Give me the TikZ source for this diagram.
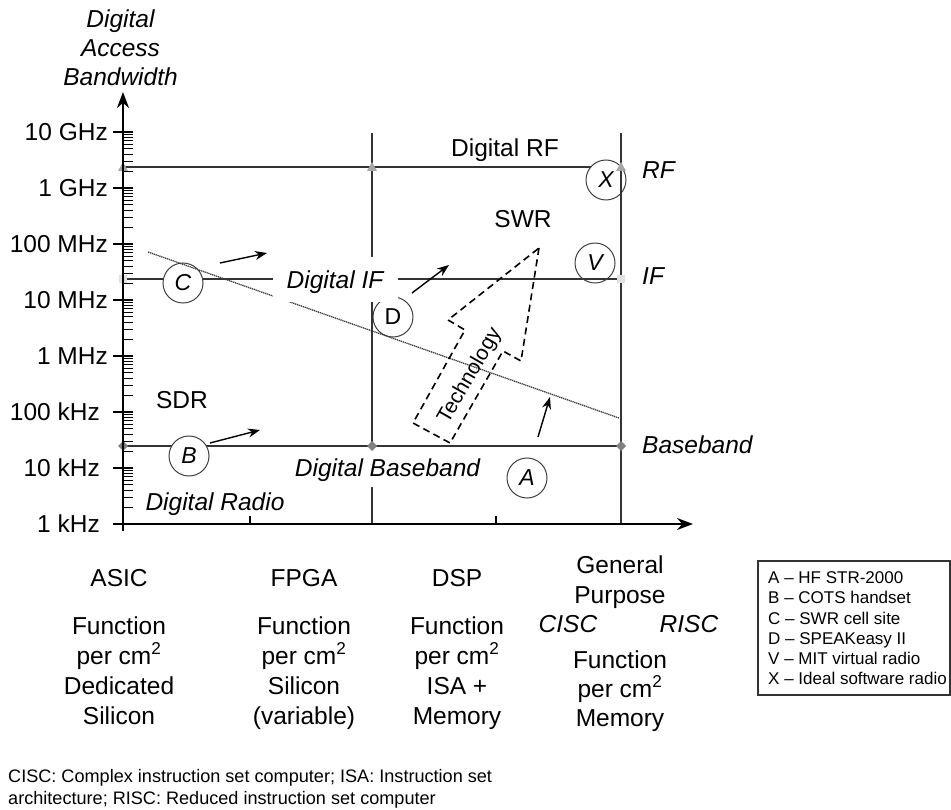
\documentclass[tikz,border=0pt]{standalone}
\usepackage{fontspec}
\setmainfont{Liberation Sans}
\usetikzlibrary{arrows.meta}
\begin{document}
\begin{tikzpicture}[x=1pt,y=-1pt,
  lab/.style={inner sep=0pt, font=\fontsize{24.5}{30}\selectfont},
  ilab/.style={inner sep=0pt, font=\fontsize{24.5}{30}\selectfont\itshape},
  leg/.style={inner sep=0pt, anchor=base west, font=\fontsize{17}{20}\selectfont},
  captxt/.style={inner sep=0pt, anchor=base west, font=\fontsize{18.1}{22}\selectfont},
  gridline/.style={draw=black!80, line width=1.4pt},
  circ/.style={circle, draw=black!75, line width=1pt, minimum size=40pt, inner sep=0pt, fill=white, font=\fontsize{23}{23}\selectfont\itshape},
  axisline/.style={draw=black, line width=2.6pt, -{Stealth[length=16pt,width=12pt]}},
  trend/.style={draw=black, line width=1.4pt, -{Stealth[length=12pt,width=9pt]}},
  tickline/.style={draw=black, line width=1.3pt},
  cover/.style={fill=white, inner xsep=0pt, text height=17.5pt, text depth=0pt, font=\fontsize{24.5}{30}\selectfont\itshape}
]
\useasboundingbox (0,0) rectangle (951,810);

% coordinates of the grid
\coordinate (rf0) at (123,167); \coordinate (rf1) at (372,167); \coordinate (rf2) at (621,167);
\coordinate (if0) at (123,279); \coordinate (if2) at (621,279);
\coordinate (bb0) at (123,446); \coordinate (bb1) at (372,446); \coordinate (bb2) at (621,446);
\coordinate (v1t) at (372,133); \coordinate (v1b) at (372,524);
\coordinate (v2t) at (621,133); \coordinate (v2b) at (621,524);

% horizontal level lines
\draw[gridline] (rf0) -- (rf2);
\draw[gridline] (if0) -- (if2);
\draw[gridline] (bb0) -- (bb2);

% points
\node[circ] (cC) at (183,283) {C};
\node[circ] (cB) at (189,456) {B};
\node[circ] (cD) at (393,317) {\upshape D};
\node[circ] (cA) at (527,478) {A};
\node[circ] (cX) at (606,180) {X};
\node[circ, fill=none] (cV) at (595,263) {V};

% trend line
\coordinate (t0) at (148,252); \coordinate (t1) at (619,418);
\draw[black!75, line width=1.3pt, dash pattern=on 1.3pt off 0.7pt] (t0) -- (t1);

% vertical lines
\draw[gridline] (v1t) -- (v1b);
\draw[gridline] (v2t) -- (v2b);

% covering labels
\node[cover, minimum width=125pt, minimum height=45pt] (dif) at (335,280) {Digital IF};
\node[cover, inner xsep=2pt, minimum height=38pt] (dbb) at (387.5,468) {Digital Baseband};

% markers
\foreach \p in {rf0,rf1,rf2} \fill[black!35] (\p) ++(-5,4) -- ++(10,0) -- ++(-5,-9) -- cycle;
\foreach \p in {if0,if2} \fill[black!12] (\p) ++(-4,-4) rectangle ++(8,8);
\foreach \p in {bb0,bb1,bb2} \fill[black!50] (\p) ++(-5,0) -- ++(5,-5) -- ++(5,5) -- ++(-5,5) -- cycle;

% axes
\coordinate (yb) at (123,531); \coordinate (yt) at (123,92);
\coordinate (xl) at (113,524); \coordinate (xr) at (693,524);
\draw[axisline] (yb) -- (yt);
\draw[axisline, line width=2pt] (xl) -- (xr);
\foreach \d in {1,...,7} \draw[tickline] (113,{524-56*\d}) -- (133,{524-56*\d});
\foreach \d in {0,...,6}{
  \foreach \k in {2,...,9}{
    \pgfmathsetmacro\yy{524-56*\d-56*log10(\k)}
    \draw[tickline, line width=1.1pt] (123,\yy) -- (133,\yy);
  }
}
\draw[tickline] (250,524) -- (250,516);
\draw[tickline] (496,524) -- (496,516);

% tick labels
\node[lab, anchor=east] (l1k) at (100,524) {1 kHz};
\node[lab, anchor=east] (l10k) at (100,468) {10 kHz};
\node[lab, anchor=east] (l100k) at (100,412) {100 kHz};
\node[lab, anchor=east] (l1M) at (108,356) {1 MHz};
\node[lab, anchor=east] (l10M) at (108,300) {10 MHz};
\node[lab, anchor=east] (l100M) at (108,244) {100 MHz};
\node[lab, anchor=east] (l1G) at (108,188) {1 GHz};
\node[lab, anchor=east] (l10G) at (108,132) {10 GHz};

% axis title
\node[ilab, anchor=base] (yt1) at (120.5,28) {Digital};
\node[ilab, anchor=base] (yt2) at (120.5,57) {Access};
\node[ilab, anchor=base] (yt3) at (120.5,86) {Bandwidth};

% region labels
\node[lab, anchor=base] (sdr) at (182,409) {SDR};
\node[lab, anchor=base] (swr) at (523,228) {SWR};
\node[lab, anchor=base] (drf) at (505,157) {Digital RF};
\node[ilab, anchor=base] (drad) at (215,510) {Digital Radio};
\node[ilab, anchor=base west] (lrf) at (642,179) {RF};
\node[ilab, anchor=base west] (lif) at (642,285) {IF};
\node[ilab, anchor=base west] (lbb) at (642,453) {Baseband};

% trend arrows
\coordinate (a1s) at (220,263); \coordinate (a1e) at (267,253);
\coordinate (a2s) at (412,293); \coordinate (a2e) at (449,265);
\coordinate (a3s) at (210,443); \coordinate (a3e) at (260,430);
\coordinate (a4s) at (538,437); \coordinate (a4e) at (550,397);
\draw[trend] (a1s) -- (a1e);
\draw[trend] (a2s) -- (a2e);
\draw[trend] (a3s) -- (a3e);
\draw[trend] (a4s) -- (a4e);

% technology arrow
\draw[black, line width=1.6pt, dash pattern=on 7pt off 4.5pt, line join=miter]
  (539,248) -- (521,361) -- (503,351) -- (450,443) -- (413,423) -- (465,330) -- (448,320) -- cycle;
\node[inner sep=0pt, rotate=60, font=\fontsize{21}{21}\selectfont] (tech) at (470,376) {Technology};

% bottom columns
\node[lab, anchor=base] (asic) at (119,586) {ASIC};
\node[lab, anchor=base] (fpga) at (304,586) {FPGA};
\node[lab, anchor=base] (dsp) at (457,586) {DSP};
\foreach \x/\a/\b/\c/\dd [count=\i] in {119/Function/per cm\textsuperscript{2}/Dedicated/Silicon,
                                304/Function/per cm\textsuperscript{2}/Silicon/(variable),
                                457/Function/per cm\textsuperscript{2}/ISA +/Memory}{
  \node[lab, anchor=base] (c\i a) at (\x,634) {\a};
  \node[lab, anchor=base] (c\i b) at (\x,664) {\b};
  \node[lab, anchor=base] (c\i c) at (\x,694) {\c};
  \node[lab, anchor=base] (c\i d) at (\x,724) {\dd};
}
\node[lab, anchor=base] (gen) at (620,573) {General};
\node[lab, anchor=base] (pur) at (620,603) {Purpose};
\node[ilab, anchor=base] (cisc) at (568,632) {CISC};
\node[ilab, anchor=base] (risc) at (689,632) {RISC};
\node[lab, anchor=base] (gfun) at (620,668) {Function};
\node[lab, anchor=base] (gper) at (620,697) {per cm\textsuperscript{2}};
\node[lab, anchor=base] (gmem) at (620,726) {Memory};

% legend
\coordinate (lg0) at (758,561); \coordinate (lg1) at (950,695);
\draw[black!80, line width=1.2pt] (lg0) rectangle (lg1);
\node[leg] (lA) at (768,583) {A -- HF STR-2000};
\node[leg] (lB) at (768,603) {B -- COTS handset};
\node[leg] (lC) at (768,624) {C -- SWR cell site};
\node[leg] (lD) at (768,644) {D -- SPEAKeasy II};
\node[leg] (lV) at (768,664) {V -- MIT virtual radio};
\node[leg] (lX) at (768,684) {X -- Ideal software radio};

% caption
\node[captxt] (cap1) at (8,782) {CISC: Complex instruction set computer; ISA: Instruction set};
\node[captxt] (cap2) at (8,804) {architecture; RISC: Reduced instruction set computer};
\end{tikzpicture}
\end{document}
